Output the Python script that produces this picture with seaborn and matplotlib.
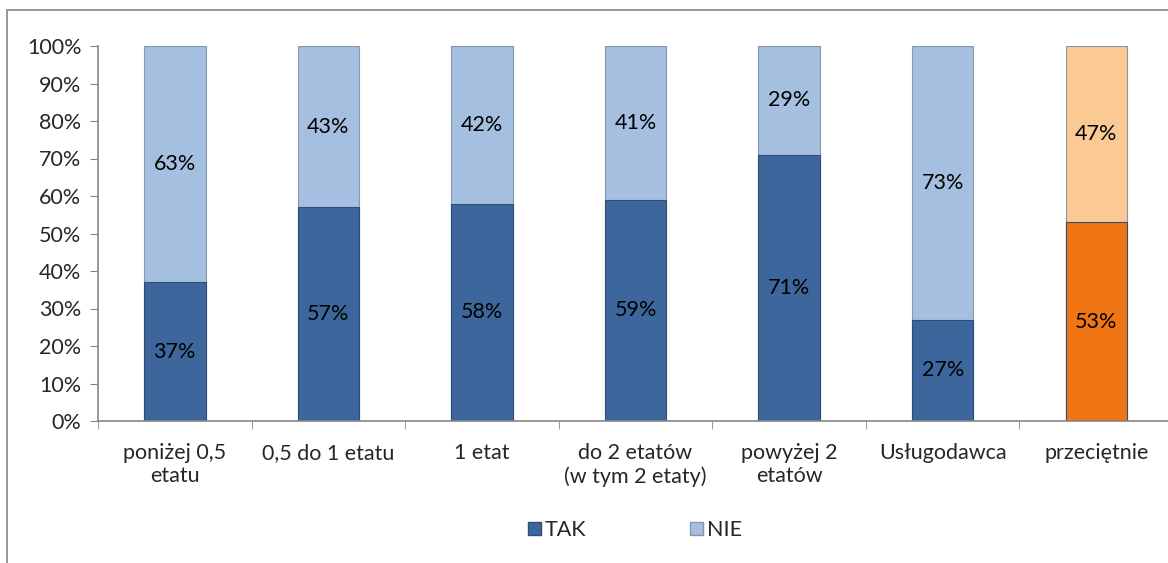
import seaborn as sns
import matplotlib.pyplot as plt
import pandas as pd
from matplotlib.patches import Patch, Rectangle

categories = ["poniżej 0,5\netatu", "0,5 do 1 etatu", "1 etat", "do 2 etatów\n(w tym 2 etaty)",
              "powyżej 2\netatów", "Usługodawca", "przeciętnie"]
tak = [37, 57, 58, 59, 71, 27, 53]
nie = [63, 43, 42, 41, 29, 73, 47]

tak_colors = ["#3D679C"] * 6 + ["#EF7613"]
nie_colors = ["#A5BFE0"] * 6 + ["#FBC994"]

df = pd.DataFrame({"kat": categories, "TAK": tak, "NIE": nie})
df["total"] = df["TAK"] + df["NIE"]

sns.set_style("white")
plt.rcParams["font.family"] = ["Lato", "DejaVu Sans"]
fs = 15.5

fig = plt.figure(figsize=(11.68, 5.63), dpi=100)
ax = fig.add_axes([98 / 1168, 142 / 563, 1075 / 1168, 375 / 563])

sns.barplot(data=df, x="kat", y="total", hue="kat", palette=nie_colors, width=0.4, saturation=1,
            edgecolor="#8796AC", linewidth=0.8, legend=False, ax=ax)
sns.barplot(data=df, x="kat", y="TAK", hue="kat", palette=tak_colors, width=0.4, saturation=1,
            edgecolor="#2E4E78", linewidth=0.8, legend=False, ax=ax)

for i, (t, n) in enumerate(zip(tak, nie)):
    ax.text(i, t / 2, f"{t}%", ha="center", va="center", fontsize=fs, color="black")
    ax.text(i, t + n / 2, f"{n}%", ha="center", va="center", fontsize=fs, color="black")

ax.set_xlim(-0.5, 6.5)
ax.set_ylim(0, 100)
ax.set_yticks(range(0, 101, 10))
ax.set_yticklabels([f"{v}%" for v in range(0, 101, 10)], fontsize=fs)
ax.set_xticks(range(7))
ax.set_xticklabels(categories, fontsize=fs, linespacing=1.2)
ax.set_xticks([i - 0.5 for i in range(8)], minor=True)
ax.tick_params(axis="x", which="major", length=0, pad=16)
ax.tick_params(axis="x", which="minor", length=6, color="#868686", direction="out", bottom=True)
ax.tick_params(axis="y", length=6, color="#868686", direction="out", left=True, pad=6)
ax.set_xlabel("")
ax.set_ylabel("")

for side in ["top", "right"]:
    ax.spines[side].set_visible(False)
for side in ["left", "bottom"]:
    ax.spines[side].set_color("#868686")
    ax.spines[side].set_linewidth(1.2)

handles = [Patch(facecolor="#3D679C", edgecolor="#2E4E78", label="TAK"),
           Patch(facecolor="#A5BFE0", edgecolor="#8796AC", label="NIE")]
fig.legend(handles=handles, loc="center", bbox_to_anchor=(635 / 1168, 1 - 530 / 563),
           ncol=2, frameon=False, fontsize=fs, handlelength=0.6, handleheight=0.6,
           handletextpad=0.2, columnspacing=4.8)

fig.patches.append(Rectangle((7 / 1168, -0.05), 1.1, 1 - 10 / 563 + 0.05,
                             transform=fig.transFigure, fill=False,
                             edgecolor="#868686", linewidth=1.2))

fig.savefig("out.png", dpi=100)
